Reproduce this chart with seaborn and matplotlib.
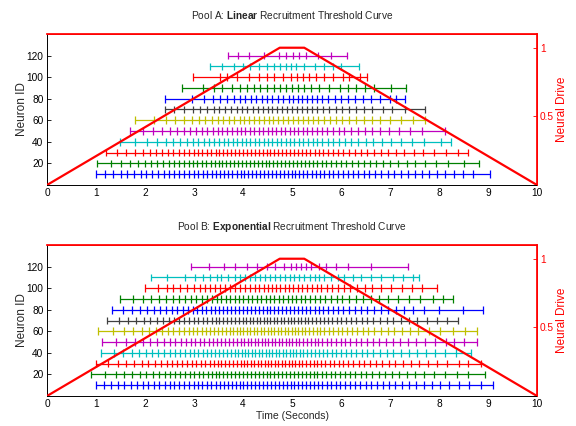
import numpy as np
import pandas as pd
import matplotlib
matplotlib.use("Agg")
import matplotlib.pyplot as plt
import seaborn as sns

# =========================================
# DATA
# =========================================

neuron_ids = [10, 20, 30, 40, 50, 60, 70, 80, 90, 100, 110, 120]

# MATLAB-style colour cycle per neuron row
neuron_colors = ["#0000ff", "#008000", "#ff0000", "#00bfbf", "#bf00bf", "#bfbf00",
                 "#404040", "#0000ff", "#008000", "#ff0000", "#00bfbf", "#bf00bf"]

# neural drive (trapezoid), same for both pools
drive_time = [0.0, 4.75, 5.25, 10.0]
drive_level = [0.0, 1.0, 1.0, 0.0]

# Pool A: linear recruitment thresholds (spike times in seconds)
pool_a_10 = [1.00, 1.18, 1.35, 1.50, 1.64, 1.78, 1.91, 2.03, 2.15, 2.27, 2.38, 2.49, 2.60, 2.70,
             2.80, 2.90, 3.00, 3.09, 3.18, 3.27, 3.36, 3.45, 3.53, 3.62, 3.70, 3.78, 3.87, 3.95,
             4.03, 4.11, 4.19, 4.27, 4.35, 4.43, 4.51, 4.59, 4.67, 4.75, 4.83, 4.91, 4.99, 5.07,
             5.15, 5.23, 5.31, 5.40, 5.48, 5.57, 5.66, 5.75, 5.84, 5.94, 6.04, 6.14, 6.24, 6.35,
             6.46, 6.58, 6.70, 6.82, 6.95, 7.08, 7.22, 7.36, 7.50, 7.65, 7.80, 7.96, 8.12, 8.30,
             8.48, 8.70, 9.04]
pool_a_20 = [1.02, 1.30, 1.52, 1.70, 1.86, 2.00, 2.13, 2.25, 2.37, 2.48, 2.59, 2.69, 2.79, 2.89,
             2.98, 3.07, 3.16, 3.25, 3.34, 3.42, 3.50, 3.58, 3.66, 3.74, 3.82, 3.90, 3.98, 4.06,
             4.14, 4.22, 4.30, 4.38, 4.46, 4.54, 4.62, 4.70, 4.78, 4.86, 4.94, 5.02, 5.10, 5.18,
             5.26, 5.34, 5.43, 5.52, 5.61, 5.70, 5.80, 5.90, 6.00, 6.11, 6.22, 6.34, 6.46, 6.59,
             6.72, 6.86, 7.01, 7.17, 7.34, 7.52, 7.72, 7.94, 8.18, 8.50, 8.82]
pool_a_30 = [1.20, 1.43, 1.62, 1.80, 1.96, 2.10, 2.23, 2.35, 2.47, 2.58, 2.69, 2.79, 2.89, 2.99,
             3.08, 3.17, 3.26, 3.35, 3.44, 3.52, 3.60, 3.68, 3.76, 3.84, 3.92, 4.00, 4.08, 4.16,
             4.24, 4.32, 4.40, 4.48, 4.56, 4.64, 4.72, 4.80, 4.88, 4.96, 5.04, 5.12, 5.20, 5.28,
             5.37, 5.46, 5.55, 5.64, 5.74, 5.84, 5.94, 6.05, 6.16, 6.28, 6.40, 6.53, 6.67, 6.81,
             6.96, 7.12, 7.29, 7.48, 7.68, 7.90, 8.15, 8.38, 8.59]
pool_a_40 = [1.48, 1.80, 2.05, 2.25, 2.42, 2.58, 2.72, 2.85, 2.97, 3.09, 3.20, 3.31, 3.41, 3.51,
             3.61, 3.70, 3.79, 3.88, 3.97, 4.06, 4.15, 4.24, 4.33, 4.42, 4.51, 4.60, 4.69, 4.78,
             4.87, 4.96, 5.05, 5.14, 5.23, 5.32, 5.42, 5.52, 5.62, 5.73, 5.84, 5.96, 6.08, 6.21,
             6.35, 6.50, 6.66, 6.83, 7.02, 7.22, 7.45, 7.70, 8.05, 8.24]
pool_a_50 = [1.69, 1.95, 2.16, 2.34, 2.50, 2.65, 2.79, 2.92, 3.04, 3.16, 3.27, 3.38, 3.48, 3.58,
             3.68, 3.78, 3.87, 3.96, 4.05, 4.14, 4.23, 4.32, 4.41, 4.50, 4.59, 4.68, 4.77, 4.86,
             4.95, 5.04, 5.13, 5.22, 5.31, 5.41, 5.51, 5.61, 5.72, 5.83, 5.95, 6.07, 6.20, 6.34,
             6.48, 6.63, 6.80, 6.98, 7.18, 7.40, 7.65, 8.12]
pool_a_60 = [1.80, 2.18, 2.42, 2.62, 2.80, 2.96, 3.10, 3.23, 3.36, 3.48, 3.60, 3.71, 3.82, 3.93,
             4.03, 4.13, 4.23, 4.33, 4.43, 4.53, 4.62, 4.72, 4.82, 4.92, 5.02, 5.12, 5.22, 5.32,
             5.43, 5.54, 5.65, 5.77, 5.89, 6.02, 6.16, 6.30, 6.46, 6.63, 6.80, 7.00, 7.22, 7.47,
             7.71]
pool_a_70 = [2.40, 2.60, 2.80, 2.97, 3.12, 3.26, 3.40, 3.52, 3.64, 3.76, 3.87, 3.98, 4.09, 4.20,
             4.30, 4.40, 4.50, 4.60, 4.70, 4.80, 4.90, 5.00, 5.10, 5.20, 5.30, 5.41, 5.52, 5.64,
             5.76, 5.89, 6.02, 6.16, 6.31, 6.47, 6.64, 6.85, 7.05, 7.30, 7.71]
pool_a_80 = [2.40, 2.96, 3.21, 3.39, 3.54, 3.67, 3.81, 3.93, 4.05, 4.16, 4.27, 4.39, 4.49, 4.59,
             4.71, 4.82, 4.93, 5.03, 5.12, 5.21, 5.30, 5.40, 5.50, 5.62, 5.74, 5.87, 6.00, 6.14,
             6.29, 6.45, 6.62, 6.80, 7.00, 7.12, 7.31]
pool_a_90 = [2.75, 3.18, 3.40, 3.57, 3.78, 3.93, 4.08, 4.22, 4.35, 4.49, 4.63, 4.75, 4.88, 5.00,
             5.12, 5.25, 5.39, 5.56, 5.76, 5.97, 6.14, 6.31, 6.48, 6.68, 7.03, 7.33]
pool_a_100 = [2.97, 3.54, 3.67, 3.88, 4.12, 4.32, 4.49, 4.64, 4.82, 4.97, 5.10, 5.22, 5.35, 5.49,
              5.66, 5.83, 6.04, 6.17, 6.38, 6.54]
pool_a_110 = [3.33, 3.57, 3.81, 4.00, 4.15, 4.32, 4.49, 4.63, 4.76, 4.88, 4.97, 5.08, 5.25, 5.46,
              5.66, 5.83, 6.00, 6.37]
pool_a_120 = [3.69, 3.89, 4.12, 4.42, 4.73, 4.88, 5.03, 5.15, 5.29, 5.53, 5.80, 6.12]

# Pool B: exponential recruitment thresholds (spike times in seconds)
pool_b_10 = [1.00, 1.16, 1.31, 1.45, 1.58, 1.71, 1.83, 1.95, 2.07, 2.18, 2.29, 2.40, 2.50, 2.60,
             2.70, 2.80, 2.90, 2.99, 3.08, 3.17, 3.26, 3.35, 3.44, 3.53, 3.61, 3.69, 3.77, 3.85,
             3.93, 4.01, 4.09, 4.17, 4.25, 4.33, 4.41, 4.49, 4.57, 4.65, 4.73, 4.81, 4.89, 4.97,
             5.05, 5.13, 5.21, 5.29, 5.37, 5.45, 5.53, 5.62, 5.71, 5.80, 5.89, 5.98, 6.08, 6.18,
             6.28, 6.39, 6.50, 6.61, 6.73, 6.85, 6.98, 7.11, 7.25, 7.39, 7.54, 7.69, 7.85, 8.02,
             8.20, 8.40, 8.62, 8.85, 9.11]
pool_b_20 = [0.89, 1.19, 1.40, 1.58, 1.74, 1.89, 2.03, 2.16, 2.28, 2.40, 2.51, 2.62, 2.72, 2.82,
             2.92, 3.01, 3.10, 3.19, 3.28, 3.36, 3.44, 3.52, 3.60, 3.68, 3.76, 3.84, 3.92, 4.00,
             4.08, 4.16, 4.24, 4.32, 4.40, 4.48, 4.56, 4.64, 4.72, 4.80, 4.88, 4.96, 5.04, 5.12,
             5.20, 5.28, 5.36, 5.44, 5.52, 5.61, 5.70, 5.79, 5.88, 5.98, 6.08, 6.18, 6.29, 6.40,
             6.52, 6.64, 6.77, 6.90, 7.04, 7.19, 7.35, 7.52, 7.70, 7.90, 8.12, 8.37, 8.60, 8.93]
pool_b_30 = [1.00, 1.24, 1.44, 1.62, 1.78, 1.93, 2.07, 2.20, 2.32, 2.44, 2.55, 2.66, 2.76, 2.86,
             2.96, 3.05, 3.14, 3.23, 3.32, 3.40, 3.48, 3.56, 3.64, 3.72, 3.80, 3.88, 3.95, 4.02,
             4.09, 4.16, 4.23, 4.30, 4.37, 4.44, 4.51, 4.58, 4.65, 4.72, 4.79, 4.86, 4.93, 5.00,
             5.07, 5.14, 5.21, 5.28, 5.36, 5.44, 5.52, 5.60, 5.68, 5.77, 5.86, 5.95, 6.05, 6.15,
             6.25, 6.36, 6.47, 6.59, 6.71, 6.84, 6.97, 7.11, 7.26, 7.42, 7.59, 7.77, 7.96, 8.17,
             8.40, 8.60, 8.85]
pool_b_40 = [1.10, 1.36, 1.56, 1.73, 1.88, 2.02, 2.15, 2.27, 2.39, 2.50, 2.61, 2.71, 2.81, 2.91,
             3.00, 3.09, 3.18, 3.27, 3.35, 3.43, 3.51, 3.59, 3.67, 3.75, 3.83, 3.90, 3.97, 4.04,
             4.11, 4.18, 4.25, 4.32, 4.39, 4.46, 4.53, 4.60, 4.67, 4.74, 4.81, 4.88, 4.95, 5.02,
             5.09, 5.16, 5.23, 5.31, 5.39, 5.47, 5.55, 5.63, 5.72, 5.81, 5.90, 6.00, 6.10, 6.20,
             6.31, 6.42, 6.54, 6.66, 6.79, 6.93, 7.07, 7.22, 7.38, 7.55, 7.73, 7.92, 8.12, 8.35,
             8.65]
pool_b_50 = [1.12, 1.40, 1.62, 1.80, 1.96, 2.11, 2.25, 2.38, 2.50, 2.62, 2.73, 2.83, 2.93, 3.03,
             3.12, 3.21, 3.30, 3.39, 3.47, 3.55, 3.63, 3.71, 3.79, 3.87, 3.95, 4.03, 4.10, 4.17,
             4.24, 4.31, 4.38, 4.45, 4.52, 4.59, 4.66, 4.73, 4.80, 4.87, 4.94, 5.01, 5.08, 5.15,
             5.22, 5.30, 5.38, 5.46, 5.54, 5.62, 5.71, 5.80, 5.89, 5.99, 6.09, 6.19, 6.30, 6.41,
             6.53, 6.65, 6.78, 6.92, 7.06, 7.21, 7.37, 7.54, 7.72, 7.92, 8.14, 8.30, 8.52, 8.78]
pool_b_60 = [1.05, 1.35, 1.57, 1.76, 1.93, 2.08, 2.22, 2.35, 2.47, 2.58, 2.69, 2.79, 2.89, 2.98,
             3.07, 3.16, 3.25, 3.33, 3.41, 3.49, 3.57, 3.65, 3.73, 3.80, 3.87, 3.94, 4.01, 4.08,
             4.15, 4.22, 4.29, 4.36, 4.43, 4.50, 4.57, 4.64, 4.71, 4.78, 4.85, 4.92, 4.99, 5.06,
             5.13, 5.20, 5.27, 5.34, 5.42, 5.50, 5.58, 5.66, 5.75, 5.84, 5.93, 6.02, 6.12, 6.22,
             6.33, 6.44, 6.56, 6.68, 6.81, 6.95, 7.09, 7.24, 7.40, 7.58, 7.80, 8.02, 8.28, 8.54,
             8.78]
pool_b_70 = [1.22, 1.47, 1.66, 1.82, 1.97, 2.11, 2.24, 2.36, 2.48, 2.59, 2.70, 2.80, 2.90, 3.00,
             3.09, 3.18, 3.27, 3.36, 3.44, 3.52, 3.60, 3.68, 3.76, 3.84, 3.92, 4.00, 4.07, 4.14,
             4.21, 4.28, 4.35, 4.42, 4.49, 4.56, 4.63, 4.70, 4.77, 4.84, 4.91, 4.98, 5.05, 5.12,
             5.19, 5.26, 5.33, 5.41, 5.49, 5.57, 5.65, 5.73, 5.82, 5.91, 6.00, 6.10, 6.20, 6.31,
             6.42, 6.54, 6.66, 6.79, 6.93, 7.07, 7.22, 7.38, 7.56, 7.76, 7.96, 8.16, 8.38]
pool_b_80 = [1.32, 1.55, 1.73, 1.89, 2.04, 2.18, 2.31, 2.43, 2.55, 2.66, 2.77, 2.87, 2.97, 3.07,
             3.16, 3.25, 3.34, 3.43, 3.52, 3.60, 3.68, 3.76, 3.84, 3.92, 4.00, 4.08, 4.16, 4.24,
             4.32, 4.40, 4.48, 4.56, 4.64, 4.72, 4.80, 4.88, 4.96, 5.04, 5.12, 5.20, 5.28, 5.37,
             5.46, 5.55, 5.64, 5.74, 5.84, 5.94, 6.05, 6.16, 6.28, 6.40, 6.53, 6.67, 6.81, 6.96,
             7.12, 7.29, 7.47, 7.70, 7.99, 8.49, 8.89]
pool_b_90 = [1.48, 1.75, 1.95, 2.12, 2.28, 2.43, 2.57, 2.70, 2.82, 2.94, 3.05, 3.16, 3.26, 3.36,
             3.46, 3.56, 3.65, 3.74, 3.83, 3.92, 4.01, 4.10, 4.19, 4.28, 4.37, 4.46, 4.55, 4.64,
             4.73, 4.82, 4.91, 5.00, 5.09, 5.18, 5.27, 5.37, 5.47, 5.57, 5.68, 5.79, 5.91, 6.03,
             6.16, 6.30, 6.45, 6.61, 6.78, 6.96, 7.16, 7.38, 7.62, 7.88, 8.08, 8.29]
pool_b_100 = [1.99, 2.27, 2.44, 2.58, 2.71, 2.85, 2.99, 3.12, 3.22, 3.33, 3.43, 3.53, 3.63, 3.74,
              3.84, 3.94, 4.04, 4.14, 4.25, 4.33, 4.42, 4.51, 4.59, 4.67, 4.76, 4.85, 4.94, 5.03,
              5.12, 5.21, 5.30, 5.40, 5.50, 5.60, 5.71, 5.82, 5.94, 6.06, 6.19, 6.33, 6.48, 6.64,
              6.82, 7.02, 7.24, 7.45, 7.66, 7.96]
pool_b_110 = [2.13, 2.44, 2.82, 3.02, 3.19, 3.33, 3.46, 3.56, 3.70, 3.84, 3.94, 4.04, 4.14, 4.25,
              4.35, 4.45, 4.55, 4.66, 4.76, 4.86, 4.96, 5.05, 5.15, 5.25, 5.36, 5.46, 5.56, 5.66,
              5.80, 5.94, 6.07, 6.24, 6.41, 6.62, 6.82, 7.06, 7.27, 7.47, 7.59]
pool_b_120 = [2.94, 3.30, 3.62, 3.84, 4.08, 4.29, 4.49, 4.66, 4.83, 4.97, 5.08, 5.18, 5.28, 5.39,
              5.56, 5.70, 5.90, 6.14, 6.62, 7.37]

pool_a = [pool_a_10, pool_a_20, pool_a_30, pool_a_40, pool_a_50, pool_a_60,
          pool_a_70, pool_a_80, pool_a_90, pool_a_100, pool_a_110, pool_a_120]
pool_b = [pool_b_10, pool_b_20, pool_b_30, pool_b_40, pool_b_50, pool_b_60,
          pool_b_70, pool_b_80, pool_b_90, pool_b_100, pool_b_110, pool_b_120]

# =========================================
# STYLE
# =========================================

sns.set_theme(style="white")
plt.rcParams["font.family"] = ["Liberation Sans", "DejaVu Sans"]
plt.rcParams["mathtext.fontset"] = "custom"
plt.rcParams["mathtext.rm"] = "Liberation Sans"
plt.rcParams["mathtext.bf"] = "Liberation Sans:bold"

palette = dict(zip(neuron_ids, neuron_colors))

fig = plt.figure(figsize=(5.76, 4.26), dpi=100)
ax_top = fig.add_axes([47 / 576, 1 - 185 / 426, 490 / 576, 151 / 426])
ax_bot = fig.add_axes([47 / 576, 1 - 396 / 426, 490 / 576, 151 / 426])


def draw_pool(ax, spikes, title):
    # long-form table: one row per spike
    df = pd.DataFrame(
        [(nid, t) for nid, times in zip(neuron_ids, spikes) for t in times],
        columns=["neuron", "time"]
    )

    # horizontal line from first to last spike of every neuron
    sns.lineplot(
        data=df, x="time", y="neuron", hue="neuron", palette=palette,
        estimator=None, sort=True, linewidth=0.9, legend=False, ax=ax
    )

    # spike ticks
    sns.scatterplot(
        data=df, x="time", y="neuron", hue="neuron", palette=palette,
        marker="|", s=30, linewidth=0.9, legend=False, ax=ax
    )

    ax.set_xlim(0, 10)
    ax.set_ylim(0, 140)
    ax.set_xticks(range(0, 11))
    ax.set_yticks([20, 40, 60, 80, 100, 120])
    ax.set_xlabel("")
    ax.set_ylabel("Neuron ID", fontsize=8.5, labelpad=-1)
    ax.tick_params(direction="in", length=3, width=0.6, labelsize=7.3,
                   colors="black", pad=2.5)
    for side in ["left", "bottom"]:
        ax.spines[side].set_color("black")
        ax.spines[side].set_linewidth(0.7)
    ax.set_title(title, fontsize=7.3, pad=11)

    # neural drive on right axis
    ax2 = ax.twinx()
    sns.lineplot(x=drive_time, y=drive_level, color="red", linewidth=1.6, ax=ax2)
    ax2.set_ylim(0, 1.1)
    ax2.set_yticks([0.5, 1])
    ax2.set_yticklabels(["0.5", "1"])
    ax2.set_ylabel("Neural Drive", color="red", fontsize=8.5, labelpad=1.5)
    ax2.tick_params(axis="y", direction="in", length=3, width=0.6, labelsize=7.3,
                    colors="red", pad=2)
    for side in ["right", "top"]:
        ax2.spines[side].set_color("red")
        ax2.spines[side].set_linewidth(0.7)
        ax.spines[side].set_color("red")
    ax2.spines["left"].set_visible(False)
    ax2.spines["bottom"].set_visible(False)
    return ax2


draw_pool(ax_top, pool_a, r"Pool A: $\bf{Linear}$ Recruitment Threshold Curve")
draw_pool(ax_bot, pool_b, r"Pool B: $\bf{Exponential}$ Recruitment Threshold Curve")

ax_bot.set_xlabel("Time (Seconds)", fontsize=7.5, labelpad=1)

fig.savefig("out.png", dpi=100)
